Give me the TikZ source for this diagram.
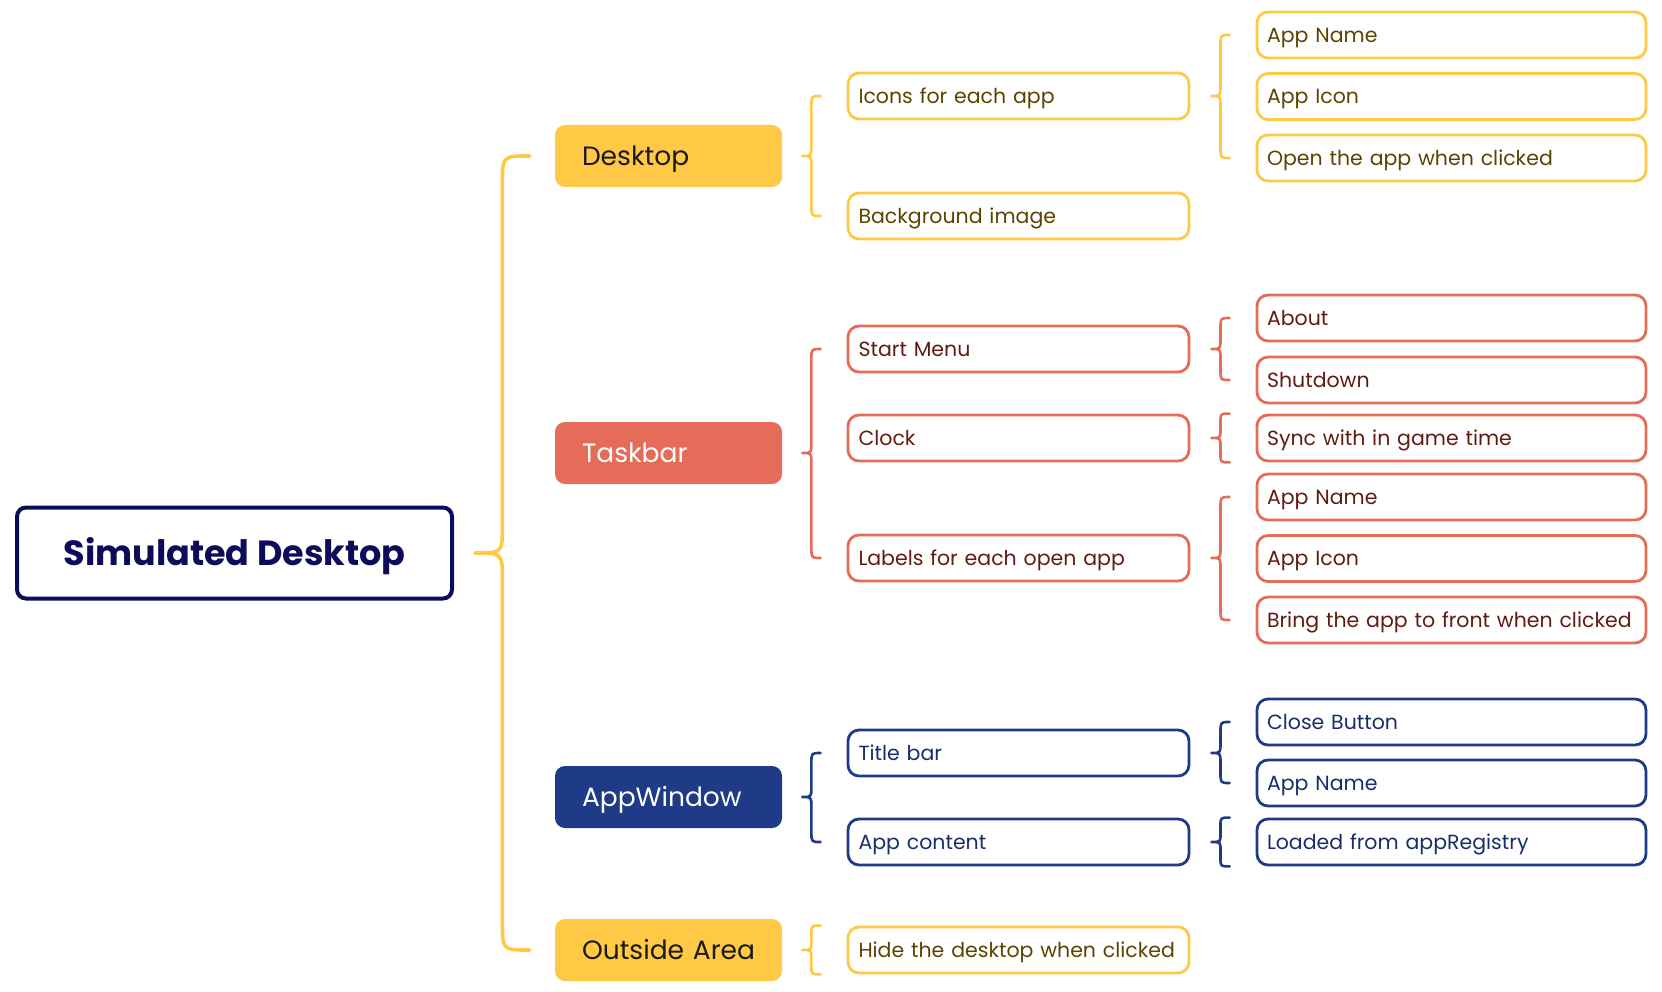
\documentclass[tikz,border=0pt]{standalone}
\usepackage{fontspec}
\setmainfont{Poppins}
\usetikzlibrary{calc}

\definecolor{sunyellow}{HTML}{FFC845}
\definecolor{yellowink}{HTML}{5C4300}
\definecolor{coral}{HTML}{E46C58}
\definecolor{coralink}{HTML}{601C12}
\definecolor{navy}{HTML}{1F3A87}
\definecolor{navyink}{HTML}{182E6C}
\definecolor{rootnavy}{HTML}{0C0C5A}
\definecolor{inkblack}{HTML}{1A1A1A}

\tikzset{
  rootbox/.style={draw=rootnavy, line width=4pt, rounded corners=9pt,
    minimum width=435pt, minimum height=91pt, text=rootnavy,
    text height=24.5pt, text depth=0pt,
    font=\fontsize{35}{42}\selectfont\bfseries},
  topicbox/.style={rounded corners=10pt, minimum height=62pt,
    text width=193pt, inner xsep=17pt, align=left,
    execute at begin node={\hspace*{10pt}},
    text height=18.5pt, text depth=0pt, font=\fontsize{26.5}{32}\selectfont},
  itembox/.style={line width=2.8pt, rounded corners=11pt, minimum height=46pt,
    inner ysep=2pt, align=left, text height=14.4pt, text depth=0pt,
    font=\fontsize{20.5}{24}\selectfont},
  midbox/.style={itembox, text width=320pt, inner xsep=10.5pt},
  leafbox/.style={itembox, text width=369pt, inner xsep=10pt},
  yellowline/.style={draw=sunyellow, text=yellowink},
  coralline/.style={draw=coral, text=coralink},
  navyline/.style={draw=navy, text=navyink},
  bracket/.style={line width=2.6pt, line cap=round, line join=round}
}

% brace: [style]{radius}{tip}{top end}{bottom end}
\newcommand{\branchbrace}[5][]{%
  \draw[bracket,#1] let \p1=(#3), \p2=(#4), \p3=(#5) in
    (\x2,\y2) .. controls ({(\x1+\x2)/2},\y2) .. ({(\x1+\x2)/2},{\y2-#2pt})
    -- ({(\x1+\x2)/2},{\y1+#2pt}) .. controls ({(\x1+\x2)/2},\y1) .. (\x1,\y1)
    .. controls ({(\x1+\x2)/2},\y1) .. ({(\x1+\x2)/2},{\y1-#2pt})
    -- ({(\x1+\x2)/2},{\y3+#2pt}) .. controls ({(\x1+\x2)/2},\y3) .. (\x3,\y3);
}

\begin{document}
\begin{tikzpicture}[x=1pt, y=-1pt]
    \useasboundingbox (0,0) rectangle (1662,992);

    % Root
    \node[rootbox] (root) at (234.5,553) {Simulated Desktop};

    % Main topics
    \node[topicbox, fill=sunyellow, text=inkblack] (desktop) at (668.5,156) {Desktop};
    \node[topicbox, fill=coral, text=white] (taskbar) at (668.5,453) {Taskbar};
    \node[topicbox, fill=navy, text=white] (appwindow) at (668.5,797) {AppWindow};
    \node[topicbox, fill=sunyellow, text=inkblack] (outside) at (668.5,950) {Outside Area};

    % Second level
    \node[midbox, yellowline] (icons) at (1018.5,96) {Icons for each app};
    \node[midbox, yellowline] (background) at (1018.5,216) {Background image};
    \node[midbox, coralline] (startmenu) at (1018.5,349) {Start Menu};
    \node[midbox, coralline] (clock) at (1018.5,438) {Clock};
    \node[midbox, coralline] (labels) at (1018.5,558) {Labels for each open app};
    \node[midbox, navyline] (titlebar) at (1018.5,753) {Title bar};
    \node[midbox, navyline] (content) at (1018.5,842) {App content};
    \node[midbox, yellowline] (hide) at (1018.5,950) {Hide the desktop when clicked};

    % Third level
    \node[leafbox, yellowline] (iconname) at (1451.5,35) {App Name};
    \node[leafbox, yellowline] (iconicon) at (1451.5,96.5) {App Icon};
    \node[leafbox, yellowline] (iconopen) at (1451.5,158) {Open the app when clicked};
    \node[leafbox, coralline] (about) at (1451.5,318) {About};
    \node[leafbox, coralline] (shutdown) at (1451.5,380) {Shutdown};
    \node[leafbox, coralline] (sync) at (1451.5,438) {Sync with in game time};
    \node[leafbox, coralline] (labelname) at (1451.5,497) {App Name};
    \node[leafbox, coralline] (labelicon) at (1451.5,558.5) {App Icon};
    \node[leafbox, coralline] (bring) at (1451.5,620) {Bring the app to front when clicked};
    \node[leafbox, navyline] (closebtn) at (1451.5,722) {Close Button};
    \node[leafbox, navyline] (titlename) at (1451.5,783) {App Name};
    \node[leafbox, navyline] (loaded) at (1451.5,842) {Loaded from appRegistry};

    % Braces
    \branchbrace[draw=sunyellow, line width=3.6pt]{28}{[xshift=21pt]root.east}{[xshift=-25pt]desktop.west}{[xshift=-25pt]outside.west}
    \branchbrace[draw=sunyellow]{10}{[xshift=20pt]desktop.east}{[xshift=-26pt]icons.west}{[xshift=-26pt]background.west}
    \branchbrace[draw=coral]{10}{[xshift=20pt]taskbar.east}{[xshift=-26pt]startmenu.west}{[xshift=-26pt]labels.west}
    \branchbrace[draw=navy]{10}{[xshift=20pt]appwindow.east}{[xshift=-26pt]titlebar.west}{[xshift=-26pt]content.west}
    \branchbrace[draw=sunyellow]{8}{[xshift=20pt]outside.east}{[xshift=-26pt]hide.north west}{[xshift=-26pt]hide.south west}
    \branchbrace[draw=sunyellow]{10}{[xshift=21pt]icons.east}{[xshift=-26pt]iconname.west}{[xshift=-26pt]iconopen.west}
    \branchbrace[draw=coral]{10}{[xshift=21pt]startmenu.east}{[xshift=-26pt]about.west}{[xshift=-26pt]shutdown.west}
    \branchbrace[draw=coral]{8}{[xshift=21pt]clock.east}{[xshift=-26pt]sync.north west}{[xshift=-26pt]sync.south west}
    \branchbrace[draw=coral]{10}{[xshift=21pt]labels.east}{[xshift=-26pt]labelname.west}{[xshift=-26pt]bring.west}
    \branchbrace[draw=navy]{10}{[xshift=21pt]titlebar.east}{[xshift=-26pt]closebtn.west}{[xshift=-26pt]titlename.west}
    \branchbrace[draw=navy]{8}{[xshift=21pt]content.east}{[xshift=-26pt]loaded.north west}{[xshift=-26pt]loaded.south west}
\end{tikzpicture}
\end{document}
